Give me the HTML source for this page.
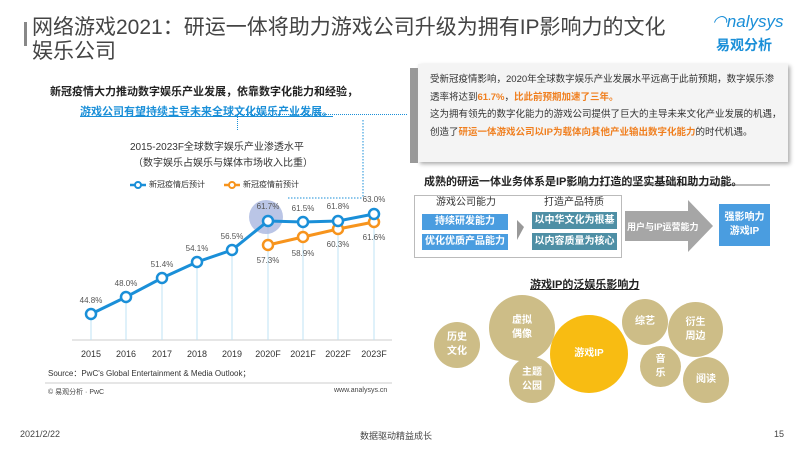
<!DOCTYPE html><html><head><meta charset="utf-8"><style>
body{margin:0;width:800px;height:450px;background:#fff;font-family:"Liberation Sans","Noto Sans CJK SC",sans-serif;position:relative;overflow:hidden}
.a{position:absolute;white-space:nowrap}
.bl{background:#4a9de0;color:#fff;font-size:10px;text-align:center;font-weight:bold}
.tl{background:#4e8fa5;color:#fff;font-size:10px;text-align:center;font-weight:bold}
.c{position:absolute;border-radius:50%;background:#cdbd87;color:#fff;font-size:10px;display:flex;align-items:center;justify-content:center;text-align:center;line-height:14px;font-weight:bold}
</style></head><body>
<div class="a" style="left:24px;top:22px;width:3px;height:24px;background:#888"></div>
<div class="a" style="left:32px;top:16px;font-size:21px;color:#444;line-height:24px;white-space:normal;width:650px">网络游戏2021：研运一体将助力游戏公司升级为拥有IP影响力的文化娱乐公司</div>
<div class="a" style="left:712px;top:12px;font-size:17px;color:#1a8fd8;font-style:italic">◠nalysys</div>
<div class="a" style="left:716px;top:35px;font-size:14px;color:#1a8fd8;font-weight:bold">易观分析</div>
<div class="a" style="left:50px;top:83px;font-size:11px;font-weight:bold;color:#222">新冠疫情大力推动数字娱乐产业发展，依靠数字化能力和经验，</div>
<div class="a" style="left:80px;top:103px;font-size:11px;font-weight:bold;color:#1a8fd8;text-decoration:underline">游戏公司有望持续主导未来全球文化娱乐产业发展。</div>
<div class="a" style="left:237px;top:114px;width:170px;border-top:1px dotted #1a8fd8"></div>
<div class="a" style="left:237px;top:114px;height:16px;border-left:1px dotted #1a8fd8"></div>
<div class="a" style="left:410px;top:68px;width:8px;height:95px;background:#999"></div>
<div class="a" style="left:418px;top:64px;width:370px;height:98px;background:#f4f4f4;box-shadow:2px 2px 4px #aaa"></div>
<div class="a" style="left:430px;top:71px;width:352px;font-size:9.5px;line-height:17.5px;color:#333;white-space:normal">受新冠疫情影响，2020年全球数字娱乐产业发展水平远高于此前预期，数字娱乐渗透率将达到<b style="color:#f07f1f">61.7%</b>，<b style="color:#f07f1f">比此前预期加速了三年。</b><br>这为拥有领先的数字化能力的游戏公司提供了巨大的主导未来文化产业发展的机遇，创造了<b style="color:#f07f1f">研运一体游戏公司以IP为载体向其他产业输出数字化能力</b>的时代机遇。</div>
<svg class="a" style="left:0;top:0" width="800" height="450">
<line x1="72" y1="340" x2="392" y2="340" stroke="#ccc"/>
<g stroke="#bfe3f5" stroke-width="1">
<line x1="91" y1="314" x2="91" y2="340"/><line x1="126" y1="297" x2="126" y2="340"/><line x1="162" y1="278" x2="162" y2="340"/><line x1="197" y1="262" x2="197" y2="340"/><line x1="232" y1="250" x2="232" y2="340"/><line x1="268" y1="221" x2="268" y2="340"/><line x1="303" y1="222" x2="303" y2="340"/><line x1="338" y1="221" x2="338" y2="340"/><line x1="374" y1="214" x2="374" y2="340"/></g>
<line x1="288" y1="198" x2="363" y2="198" stroke="#1a8fd8" stroke-dasharray="1.5,1.5"/>
<line x1="363" y1="120" x2="363" y2="198" stroke="#1a8fd8" stroke-dasharray="1.5,1.5"/>
<circle cx="266" cy="217" r="17" fill="#a9b7e0" opacity=".8"/>
<polyline points="268,245 303,237 338,229 374,222" fill="none" stroke="#f7941d" stroke-width="3"/>
<polyline points="91,314 126,297 162,278 197,262 232,250 268,221 303,222 338,221 374,214" fill="none" stroke="#1a8fd8" stroke-width="3"/>
<g fill="#fff" stroke="#f7941d" stroke-width="2.5"><circle cx="268" cy="245" r="5"/><circle cx="303" cy="237" r="5"/><circle cx="338" cy="229" r="5"/><circle cx="374" cy="222" r="5"/></g>
<g fill="#fff" stroke="#1a8fd8" stroke-width="2.5"><circle cx="91" cy="314" r="5"/><circle cx="126" cy="297" r="5"/><circle cx="162" cy="278" r="5"/><circle cx="197" cy="262" r="5"/><circle cx="232" cy="250" r="5"/><circle cx="268" cy="221" r="5"/><circle cx="303" cy="222" r="5"/><circle cx="338" cy="221" r="5"/><circle cx="374" cy="214" r="5"/></g>
<g font-size="8" fill="#555" text-anchor="middle" font-family="Liberation Sans">
<text x="91" y="303">44.8%</text><text x="126" y="286">48.0%</text><text x="162" y="267">51.4%</text><text x="197" y="251">54.1%</text><text x="232" y="239">56.5%</text><text x="268" y="209">61.7%</text><text x="303" y="211">61.5%</text><text x="338" y="209">61.8%</text><text x="374" y="202">63.0%</text>
<text x="268" y="263">57.3%</text><text x="303" y="256">58.9%</text><text x="338" y="247">60.3%</text><text x="374" y="240">61.6%</text>
<g font-size="9" fill="#333"><text x="91" y="357">2015</text><text x="126" y="357">2016</text><text x="162" y="357">2017</text><text x="197" y="357">2018</text><text x="232" y="357">2019</text><text x="268" y="357">2020F</text><text x="303" y="357">2021F</text><text x="338" y="357">2022F</text><text x="374" y="357">2023F</text></g>
</g>
<line x1="130" y1="185" x2="146" y2="185" stroke="#1a8fd8" stroke-width="2.5"/><circle cx="138" cy="185" r="3" fill="#fff" stroke="#1a8fd8" stroke-width="2"/>
<line x1="224" y1="185" x2="240" y2="185" stroke="#f7941d" stroke-width="2.5"/><circle cx="232" cy="185" r="3" fill="#fff" stroke="#f7941d" stroke-width="2"/>
<line x1="45" y1="383" x2="392" y2="383" stroke="#ccc"/>
<polygon points="625,211 688,211 688,200 713,226 688,252 688,241 625,241" fill="#a6a6a6"/>
<polygon points="517,220 524,227 517,240" fill="#999"/>
<line x1="570" y1="185" x2="770" y2="185" stroke="#777"/>
</svg>
<div class="a" style="left:130px;top:138px;font-size:10px;color:#333">2015-2023F全球数字娱乐产业渗透水平</div>
<div class="a" style="left:133px;top:154px;font-size:10px;color:#333">（数字娱乐占娱乐与媒体市场收入比重）</div>
<div class="a" style="left:149px;top:179px;font-size:8px;color:#333">新冠疫情后预计</div>
<div class="a" style="left:243px;top:179px;font-size:8px;color:#333">新冠疫情前预计</div>
<div class="a" style="left:48px;top:368px;font-size:8px;color:#333">Source：PwC's Global Entertainment &amp; Media Outlook；</div>
<div class="a" style="left:48px;top:387px;font-size:7px;color:#444">© 易观分析 · PwC</div>
<div class="a" style="left:334px;top:387px;font-size:7px;color:#444">www.analysys.cn</div>
<div class="a" style="left:424px;top:173px;font-size:11px;font-weight:bold;color:#222">成熟的研运一体业务体系是IP影响力打造的坚实基础和助力动能。</div>
<div class="a" style="left:414px;top:195px;width:206px;height:61px;border:1px solid #bbb"></div>
<div class="a" style="left:436px;top:196px;font-size:10px;line-height:13px;color:#333">游戏公司能力</div>
<div class="a" style="left:544px;top:196px;font-size:10px;line-height:13px;color:#333">打造产品特质</div>
<div class="a bl" style="left:422px;top:214px;width:86px;height:16px;line-height:16px">持续研发能力</div>
<div class="a bl" style="left:422px;top:234px;width:86px;height:16px;line-height:16px">优化优质产品能力</div>
<div class="a tl" style="left:532px;top:212px;width:85px;height:17px;line-height:17px">以中华文化为根基</div>
<div class="a tl" style="left:532px;top:233px;width:85px;height:17px;line-height:17px">以内容质量为核心</div>
<div class="a" style="left:627px;top:220px;font-size:9px;color:#fff;font-weight:bold">用户与IP运营能力</div>
<div class="a bl" style="left:719px;top:204px;width:51px;height:42px;line-height:14px;display:flex;align-items:center;justify-content:center">强影响力<br>游戏IP</div>
<div class="a" style="left:530px;top:276px;font-size:11px;font-weight:bold;color:#222;text-decoration:underline">游戏IP的泛娱乐影响力</div>
<div class="c" style="left:434px;top:322px;width:46px;height:46px">历史<br>文化</div>
<div class="c" style="left:489px;top:295px;width:66px;height:66px">虚拟<br>偶像</div>
<div class="c" style="left:509px;top:357px;width:46px;height:46px">主题<br>公园</div>
<div class="c" style="left:550px;top:315px;width:78px;height:78px;background:#f8bc12">游戏IP</div>
<div class="c" style="left:622px;top:299px;width:46px;height:46px">综艺</div>
<div class="c" style="left:668px;top:302px;width:55px;height:55px">衍生<br>周边</div>
<div class="c" style="left:640px;top:346px;width:41px;height:41px">音<br>乐</div>
<div class="c" style="left:683px;top:357px;width:46px;height:46px">阅读</div>
<div class="a" style="left:20px;top:429px;font-size:9px;color:#444">2021/2/22</div>
<div class="a" style="left:360px;top:429px;font-size:9px;color:#444">数据驱动精益成长</div>
<div class="a" style="left:774px;top:429px;font-size:9px;color:#444">15</div>
</body></html>
